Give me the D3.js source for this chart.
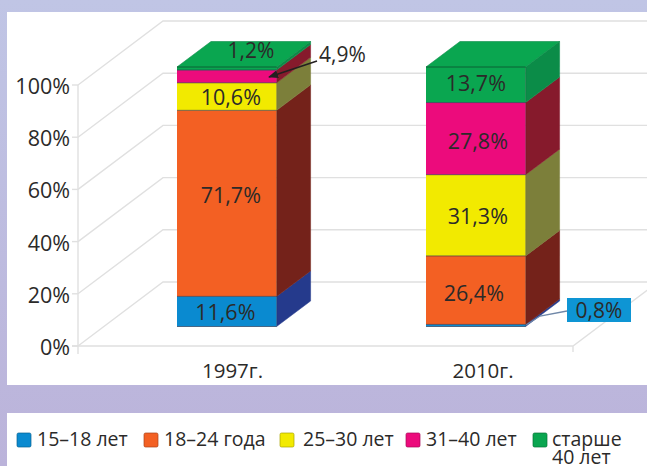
<!DOCTYPE html>
<html><head><meta charset="utf-8">
<script src="https://cdn.jsdelivr.net/npm/d3@7"></script>
<style>html,body{margin:0;padding:0;overflow:hidden;background:#fff}svg{display:block}text{font-family:"Open Sans",sans-serif;fill:#2b2a29}</style>
</head><body><div id="c"></div>
<script>
const years = ["1997г.", "2010г."];
const ageGroups = ["15–18 лет", "18–24 года", "25–30 лет", "31–40 лет", "старше 40 лет"];
const values1997 = [11.6, 71.7, 10.6, 4.9, 1.2];
const values2010 = [0.8, 26.4, 31.3, 27.8, 13.7];
const axisTicks = [0, 20, 40, 60, 80, 100];
const frontColors = ["#0a8ad0", "#f36023", "#f2ea00", "#ec0b7c", "#0aa650"];
const sideColors = ["#253a8c", "#74221a", "#7c7f3a", "#861a2c", "#0b8c48"];

const W = 647, H = 466;
const svg = d3.select("#c").append("svg").attr("width", W).attr("height", H);
const defs = svg.append("defs");
const g = defs.append("linearGradient").attr("id", "bg").attr("x2", 0).attr("y2", 1);
g.append("stop").attr("offset", 0).attr("stop-color", "#c0c5e5");
g.append("stop").attr("offset", 1).attr("stop-color", "#bbb3da");
svg.append("rect").attr("width", W).attr("height", H).attr("fill", "url(#bg)");
svg.append("rect").attr("x", 7).attr("y", 12).attr("width", W - 7).attr("height", 373).attr("fill", "#fff");
svg.append("rect").attr("x", 7).attr("y", 413).attr("width", W - 7).attr("height", 53).attr("fill", "#fff");

// scales
const yFront = d3.scaleLinear().domain([0, 100]).range([346, 85]);
const yBar = d3.scaleLinear().domain([0, 100]).range([326.5, 67]);
const xBand = d3.scaleBand().domain(years).range([177, 525.6]).paddingInner(0.6).paddingOuter(0);
const depthX = 85, depthY = -64, barDX = 34, barDY = -25.5;

// walls / grid
const gridC = "#e0e0e0";
const grid = svg.append("g").attr("fill", "none").attr("stroke", gridC).attr("stroke-width", 1.4);
grid.selectAll("path.g").data(axisTicks).join("path").attr("class", "g")
  .attr("d", d => `M78,${yFront(d)}L${78 + depthX},${yFront(d) + depthY}L${W},${yFront(d) + depthY}`);
grid.append("path").attr("d", `M78,${yFront(100)}V${yFront(0) + 8}M72,${yFront(0)}H573L${573 + depthX},${yFront(0) + depthY}M573,${yFront(0)}v6`);
grid.selectAll("path.t").data(axisTicks).join("path").attr("class", "t")
  .attr("d", d => `M72,${yFront(d)}H78`);

// axis labels
svg.append("g").selectAll("text").data(axisTicks).join("text")
  .attr("x", 70).attr("y", d => yFront(d) + 9).attr("text-anchor", "end")
  .attr("font-size", 21.5).text(d => d + "%");
svg.append("g").selectAll("text").data(years).join("text")
  .attr("x", (d, i) => i ? 483 : 232.5).attr("y", 378).attr("text-anchor", "middle")
  .attr("font-size", 20.5).text(d => d);

// bars
const series = [values1997, values2010];
const labelNudge = [
  [[-1.5, 0.5], [4, -8.4], [4, 0.5], null, null],
  [null, [-2, 2.7], [2, 0.5], [2, 2], [0, -1.3]]
];
series.forEach((vals, si) => {
  const x0 = xBand(years[si]), w = xBand.bandwidth();
  let cum = 0;
  const segs = vals.map((v, i) => { const s = { i, v, a: cum, b: cum + v }; cum += v; return s; });
  const top = d3.max(segs, d => d.b);
  const gb = svg.append("g");
  gb.selectAll("path.side").data(segs).join("path").attr("class", "side")
    .attr("fill", d => sideColors[d.i]).attr("stroke", d => sideColors[d.i]).attr("stroke-width", .5)
    .attr("d", d => `M${x0 + w},${yBar(d.a)}l${barDX},${barDY}V${yBar(d.b) + barDY}l${-barDX},${-barDY}Z`);
  gb.selectAll("rect.front").data(segs).join("rect").attr("class", "front")
    .attr("x", x0).attr("width", w)
    .attr("y", d => yBar(d.b)).attr("height", d => yBar(d.a) - yBar(d.b))
    .attr("fill", d => frontColors[d.i]);
  gb.selectAll("line.edge").data(segs).join("line").attr("class", "edge")
    .attr("x1", x0).attr("x2", x0 + w).attr("y1", d => yBar(d.a)).attr("y2", d => yBar(d.a))
    .attr("stroke", "#1f2a44").attr("stroke-opacity", .6).attr("stroke-width", 1);
  gb.append("path").attr("fill", frontColors[4]).attr("stroke", "#0b8c48").attr("stroke-width", .6)
    .attr("d", `M${x0},${yBar(top)}l${barDX},${barDY}h${w}l${-barDX},${-barDY}Z`);
  gb.append("line").attr("x1", x0).attr("x2", x0 + w).attr("y1", yBar(top)).attr("y2", yBar(top))
    .attr("stroke", "#0b6b38").attr("stroke-width", 1);
  gb.append("line").attr("x1", x0 + w).attr("x2", x0 + w).attr("y1", yBar(0)).attr("y2", yBar(top))
    .attr("stroke", "#333").attr("stroke-opacity", .35).attr("stroke-width", .8);
  gb.selectAll("text").data(segs.filter(d => labelNudge[si][d.i])).join("text")
    .attr("x", d => x0 + w / 2 + labelNudge[si][d.i][0])
    .attr("y", d => yBar((d.a + d.b) / 2) + labelNudge[si][d.i][1] + 8)
    .attr("text-anchor", "middle").attr("font-size", 21.5)
    .text(d => String(d.v).replace(".", ",") + "%");
});

// callouts
const fmt = v => String(v).replace(".", ",") + "%";
svg.append("text").attr("x", 251).attr("y", 58).attr("text-anchor", "middle").attr("font-size", 21).text(fmt(values1997[4]));
svg.append("text").attr("x", 319).attr("y", 62).attr("font-size", 21).text(fmt(values1997[3]));
defs.append("marker").attr("id", "arr").attr("viewBox", "0 0 10 8").attr("refX", 9).attr("refY", 4)
  .attr("markerWidth", 10).attr("markerHeight", 8).attr("orient", "auto").attr("markerUnits", "userSpaceOnUse")
  .append("path").attr("d", "M0,0L10,4L0,8Z").attr("fill", "#231f20");
svg.append("path").attr("d", "M317,61L269,77").attr("stroke", "#231f20").attr("stroke-width", 1.6).attr("marker-end", "url(#arr)");
svg.append("path").attr("d", "M567,311L540,316L526,325").attr("fill", "none").attr("stroke", "#6f87a8").attr("stroke-width", 1.3);
svg.append("rect").attr("x", 567).attr("y", 298).attr("width", 64).attr("height", 24).attr("fill", "#0e95d4");
svg.append("text").attr("x", 599).attr("y", 318).attr("text-anchor", "middle").attr("font-size", 21).text(fmt(values2010[0]));

// legend
const legendX = [17, 144, 280, 406, 533];
const textX = [37, 164, 303, 426, 552];
const lg = svg.append("g");
lg.selectAll("rect").data(ageGroups).join("rect")
  .attr("x", (d, i) => legendX[i]).attr("y", 433).attr("width", 14).attr("height", 14).attr("rx", 1.5)
  .attr("fill", (d, i) => frontColors[i]).attr("stroke", (d, i) => d3.color(frontColors[i]).darker(1)).attr("stroke-opacity", .7);
lg.selectAll("text").data(ageGroups).join("text")
  .attr("x", (d, i) => textX[i]).attr("y", 446).attr("font-size", 19.5)
  .each(function (d, i) {
    if (i < 4) { d3.select(this).text(d); return; }
    const parts = d.split(" ");
    d3.select(this).append("tspan").attr("x", textX[i]).text(parts[0]);
    d3.select(this).append("tspan").attr("x", textX[i]).attr("dy", 17.5).text(parts.slice(1).join(" "));
  });
</script></body></html>
